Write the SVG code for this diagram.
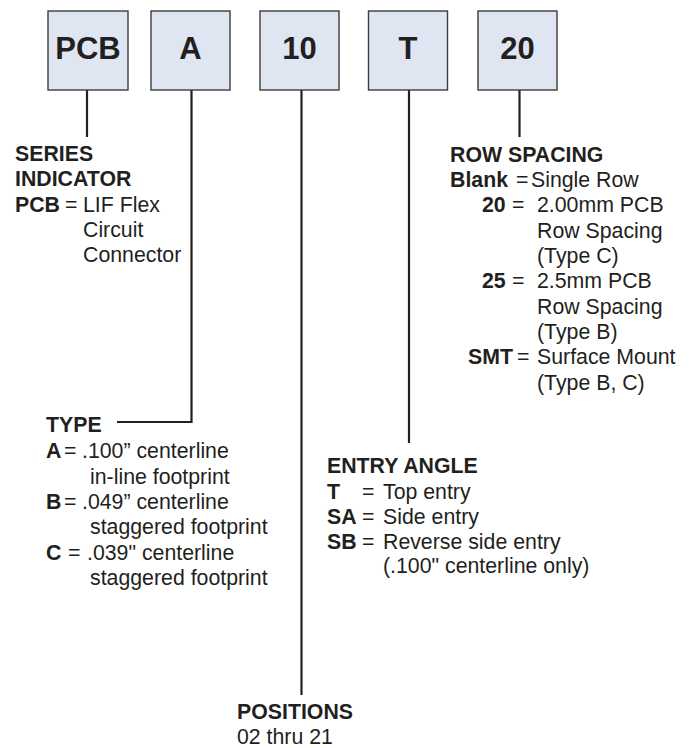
<svg xmlns="http://www.w3.org/2000/svg" width="694" height="748" viewBox="0 0 694 748">
<style>
.box{fill:#dfe6f2;stroke:#3c3c3c;stroke-width:1.4}
.bt{font-family:"Liberation Sans",Arial,sans-serif;font-weight:bold;font-size:31px;fill:#231f20;text-anchor:middle}
.t{font-family:"Liberation Sans",Arial,sans-serif;font-size:21.3px;fill:#231f20}
.b{font-weight:bold}
.ln{stroke:#231f20;stroke-width:2.2;fill:none}
</style>
<rect width="694" height="748" fill="#ffffff"/>
<g id="connectors">
<line class="ln" x1="87" y1="90" x2="87" y2="137"/>
<polyline class="ln" points="191.5,90 191.5,422 117,422"/>
<line class="ln" x1="301.5" y1="90" x2="301.5" y2="695"/>
<line class="ln" x1="409" y1="90" x2="409" y2="443"/>
<line class="ln" x1="519.5" y1="90" x2="519.5" y2="137"/>
</g>
<g id="box-pcb"><rect class="box" x="48" y="11" width="80" height="79"/><text class="bt" x="88" y="59">PCB</text></g>
<g id="box-a"><rect class="box" x="151" y="11" width="79" height="79"/><text class="bt" x="190.5" y="59">A</text></g>
<g id="box-10"><rect class="box" x="260" y="11" width="79" height="79"/><text class="bt" x="299.5" y="59">10</text></g>
<g id="box-t"><rect class="box" x="368.5" y="11" width="79" height="79"/><text class="bt" x="408" y="59">T</text></g>
<g id="box-20"><rect class="box" x="478" y="11" width="79" height="79"/><text class="bt" x="517.5" y="59">20</text></g>
<g id="series" class="t">
<text x="15" y="161" class="b">SERIES</text>
<text x="15" y="186" class="b">INDICATOR</text>
<text x="15" y="212"><tspan class="b">PCB</tspan><tspan x="65">=</tspan><tspan x="83">LIF Flex</tspan></text>
<text x="83" y="237">Circuit</text>
<text x="83" y="262">Connector</text>
</g>
<g id="row-spacing" class="t">
<text x="450" y="162" class="b">ROW SPACING</text>
<text x="450" y="187"><tspan class="b">Blank</tspan><tspan x="516">=</tspan><tspan x="531">Single Row</tspan></text>
<text x="482" y="212"><tspan class="b">20</tspan><tspan x="512">=</tspan><tspan x="537">2.00mm PCB</tspan></text>
<text x="537" y="237.5">Row Spacing</text>
<text x="537" y="263">(Type C)</text>
<text x="482" y="288"><tspan class="b">25</tspan><tspan x="512">=</tspan><tspan x="537">2.5mm PCB</tspan></text>
<text x="537" y="313.5">Row Spacing</text>
<text x="537" y="338.5">(Type B)</text>
<text x="468" y="364"><tspan class="b">SMT</tspan><tspan x="517">=</tspan><tspan x="537">Surface Mount</tspan></text>
<text x="537" y="389.5">(Type B, C)</text>
</g>
<g id="type" class="t">
<text x="46" y="432" class="b">TYPE</text>
<text x="46" y="458"><tspan class="b">A</tspan><tspan x="64">=</tspan><tspan x="82">.100” centerline</tspan></text>
<text x="90" y="484">in-line footprint</text>
<text x="46" y="509"><tspan class="b">B</tspan><tspan x="64">=</tspan><tspan x="82">.049” centerline</tspan></text>
<text x="90" y="534">staggered footprint</text>
<text x="46" y="560"><tspan class="b">C</tspan><tspan x="68">=</tspan><tspan x="87">.039" centerline</tspan></text>
<text x="90" y="585">staggered footprint</text>
</g>
<g id="entry-angle" class="t">
<text x="327" y="473" class="b">ENTRY ANGLE</text>
<text x="327" y="499"><tspan class="b">T</tspan><tspan x="362">=</tspan><tspan x="383">Top entry</tspan></text>
<text x="327" y="524"><tspan class="b">SA</tspan><tspan x="362">=</tspan><tspan x="383">Side entry</tspan></text>
<text x="327" y="549"><tspan class="b">SB</tspan><tspan x="362">=</tspan><tspan x="383">Reverse side entry</tspan></text>
<text x="383" y="573">(.100" centerline only)</text>
</g>
<g id="positions" class="t">
<text x="237" y="719" class="b">POSITIONS</text>
<text x="237" y="744">02 thru 21</text>
</g>
</svg>
